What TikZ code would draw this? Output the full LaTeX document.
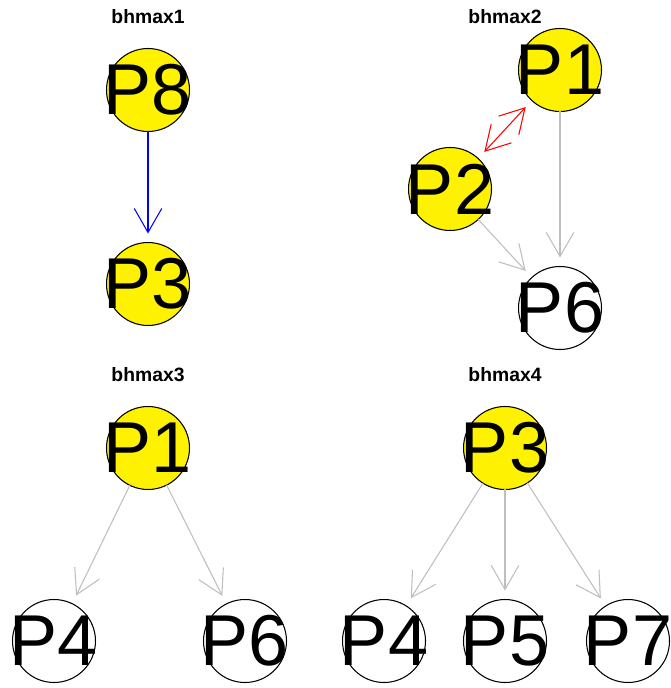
\documentclass[tikz,border=0pt]{standalone}
\usepackage{fontspec}
\setmainfont{Liberation Sans}
\usetikzlibrary{arrows.meta}
\definecolor{edgegray}{HTML}{BEBEBE}
\begin{document}
\begin{tikzpicture}[x=0.02cm,y=-0.02cm,
  vert/.style={circle,draw,line width=0.6pt,minimum size=1.66cm,inner sep=0pt,outer sep=0pt,font=\fontsize{41}{41}\selectfont},
  hit/.style={vert,fill=yellow},
  plain/.style={vert,fill=white},
  edge/.style={line width=0.6pt,-{Straight Barb[length=0.48cm,width=0.55cm]},shorten >=0.18cm},
  ttl/.style={font=\bfseries\fontsize{11}{12}\selectfont}]
\useasboundingbox (0,0) rectangle (671,688);
% bhmax1
\node[ttl] (t1) at (148,17) {bhmax1};
\node[hit] (a8) at (148,90) {\makebox[0pt]{P8}};
\node[hit] (a3) at (148,284) {\makebox[0pt]{P3}};
\draw[edge,blue] (a8) -- (a3);
% bhmax2
\node[ttl] (t2) at (505,17) {bhmax2};
\node[hit] (b1) at (560,70) {\makebox[0pt]{P1}};
\node[hit] (b2) at (450,189) {\makebox[0pt]{P2}};
\node[plain] (b6) at (560,308) {\makebox[0pt]{P6}};
\draw[edge,red,{Straight Barb[length=0.48cm,width=0.55cm]}-{Straight Barb[length=0.48cm,width=0.55cm]},shorten <=0.18cm] (b2) -- (b1);
\draw[edge,edgegray] (b1) -- (b6);
\draw[edge,edgegray] (b2) -- (b6);
% bhmax3
\node[ttl] (t3) at (148,375) {bhmax3};
\node[hit] (c1) at (148,448) {\makebox[0pt]{P1}};
\node[plain] (c4) at (54,641) {\makebox[0pt]{P4}};
\node[plain] (c6) at (245,641) {\makebox[0pt]{P6}};
\draw[edge,edgegray] (c1) -- (c4);
\draw[edge,edgegray] (c1) -- (c6);
% bhmax4
\node[ttl] (t4) at (505,375) {bhmax4};
\node[hit] (d3) at (505,448) {\makebox[0pt]{P3}};
\node[plain] (d4) at (384,641) {\makebox[0pt]{P4}};
\node[plain] (d5) at (505,641) {\makebox[0pt]{P5}};
\node[plain] (d7) at (628,641) {\makebox[0pt]{P7}};
\draw[edge,edgegray] (d3) -- (d4);
\draw[edge,edgegray] (d3) -- (d5);
\draw[edge,edgegray] (d3) -- (d7);
\end{tikzpicture}
\end{document}
